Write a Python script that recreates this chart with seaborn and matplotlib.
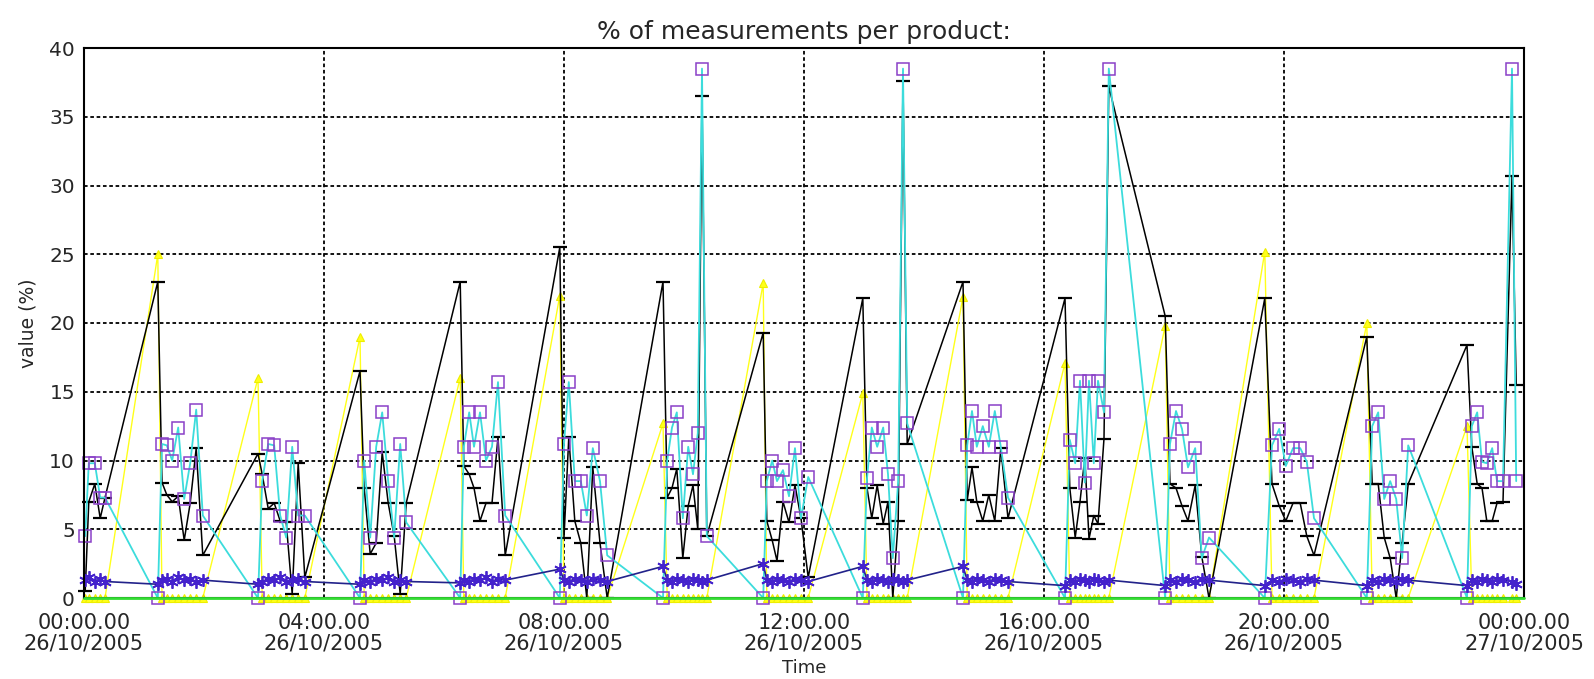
import matplotlib
matplotlib.use('Agg')
import matplotlib.pyplot as plt
import seaborn as sns

# measurement times, hours after 00:00 26/10/2005
hours = [
    0.02, 0.08, 0.18, 0.27, 0.35,
    1.23, 1.30, 1.38, 1.47, 1.57, 1.67, 1.77, 1.87, 1.98,
    2.90, 2.97, 3.07, 3.17, 3.27, 3.37, 3.47, 3.57, 3.68,
    4.60, 4.67, 4.77, 4.87, 4.97, 5.07, 5.17, 5.27, 5.37,
    6.27, 6.33, 6.42, 6.50, 6.60, 6.70, 6.80, 6.90, 7.02,
    7.93, 8.00, 8.08, 8.18, 8.28, 8.38, 8.48, 8.60, 8.72,
    9.65, 9.72, 9.80, 9.88, 9.98, 10.07, 10.15, 10.23, 10.30, 10.38,
    11.32, 11.38, 11.47, 11.55, 11.65, 11.75, 11.85, 11.95, 12.07,
    12.98, 13.05, 13.13, 13.22, 13.32, 13.40, 13.48, 13.57, 13.65, 13.72,
    14.65, 14.72, 14.80, 14.88, 14.98, 15.08, 15.18, 15.28, 15.40,
    16.35, 16.43, 16.52, 16.60, 16.68, 16.75, 16.83, 16.90, 17.00, 17.08,
    18.02, 18.10, 18.20, 18.30, 18.40, 18.52, 18.63, 18.75,
    19.68, 19.80, 19.92, 20.03, 20.15, 20.27, 20.38, 20.50,
    21.38, 21.47, 21.57, 21.67, 21.77, 21.87, 21.97, 22.07,
    23.05, 23.13, 23.22, 23.30, 23.38, 23.47, 23.55, 23.65, 23.80, 23.87,
]

black_pct = [
    0.5, 7.0, 8.3, 5.8, 7.3,
    23.0, 8.4, 7.5, 7.0, 7.4, 4.2, 6.9, 10.9, 3.1,
    10.5, 9.0, 6.5, 6.9, 5.6, 5.5, 0.3, 9.8, 1.5,
    16.5, 8.0, 3.2, 4.0, 10.6, 6.9, 4.5, 0.3, 6.9,
    23.0, 9.6, 9.0, 8.0, 5.6, 6.9, 6.9, 11.7, 3.1,
    25.5, 4.4, 11.7, 5.6, 4.0, 0.0, 9.5, 4.0, 0.0,
    23.0, 7.3, 8.0, 9.4, 2.9, 6.7, 8.2, 5.0, 36.5, 4.5,
    19.3, 5.6, 4.2, 2.7, 7.0, 5.5, 8.2, 5.8, 1.5,
    21.8, 8.0, 5.8, 8.2, 5.4, 7.0, 0.0, 5.6, 37.6, 11.2,
    23.0, 7.1, 9.5, 7.0, 5.6, 7.5, 5.6, 10.9, 5.8,
    21.8, 8.0, 4.4, 7.0, 10.2, 4.3, 6.0, 5.4, 11.6, 37.2,
    20.5, 8.3, 8.0, 6.7, 5.6, 8.2, 3.0, 0.0,
    21.8, 8.3, 6.7, 5.6, 6.9, 6.9, 4.5, 3.1,
    19.0, 8.3, 8.3, 4.4, 2.9, 0.0, 4.0, 8.3,
    18.4, 11.0, 8.3, 8.0, 5.6, 5.6, 6.9, 7.0, 30.7, 15.5,
]

yellow_pct = [
    0, 0, 0, 0, 0,
    25.0, 0, 0, 0, 0, 0, 0, 0, 0,
    16.0, 0, 0, 0, 0, 0, 0, 0, 0,
    19.0, 0, 0, 0, 0, 0, 0, 0, 0,
    16.0, 0, 0, 0, 0, 0, 0, 0, 0,
    22.0, 0, 0, 0, 0, 0, 0, 0, 0,
    12.7, 0, 0, 0, 0, 0, 0, 0, 0, 0,
    22.9, 0, 0, 0, 0, 0, 0, 0, 0,
    14.9, 0, 0, 0, 0, 0, 0, 0, 0, 0,
    21.9, 0, 0, 0, 0, 0, 0, 0, 0,
    17.1, 0, 0, 0, 0, 0, 0, 0, 0, 0,
    19.8, 0, 0, 0, 0, 0, 0, 0,
    25.2, 0, 0, 0, 0, 0, 0, 0,
    20.0, 0, 0, 0, 0, 0, 0, 0,
    12.5, 0, 0, 0, 0, 0, 0, 0, 0, 0,
]

cyan_pct = [
    4.5, 9.8, 9.8, 7.3, 7.3,
    0.0, 11.2, 11.1, 10.0, 12.4, 7.2, 9.8, 13.7, 6.0,
    0.0, 8.5, 11.2, 11.1, 6.0, 4.4, 11.0, 6.0, 6.0,
    0.0, 10.0, 4.4, 11.0, 13.5, 8.5, 4.4, 11.2, 5.5,
    0.0, 11.0, 13.5, 11.0, 13.5, 10.0, 11.0, 15.7, 6.0,
    0.0, 11.2, 15.7, 8.5, 8.5, 6.0, 10.9, 8.5, 3.1,
    0.0, 10.0, 12.4, 13.5, 5.8, 11.0, 9.0, 12.0, 38.5, 4.5,
    0.0, 8.5, 10.0, 8.5, 9.3, 7.4, 10.9, 5.8, 8.8,
    0.0, 8.7, 12.4, 11.0, 12.4, 9.0, 2.9, 8.5, 38.5, 12.7,
    0.0, 11.1, 13.6, 11.0, 12.5, 11.0, 13.6, 11.0, 7.3,
    0.0, 11.5, 9.8, 15.8, 8.4, 15.8, 9.8, 15.8, 13.5, 38.5,
    0.0, 11.2, 13.6, 12.3, 9.5, 10.9, 2.9, 4.4,
    0.0, 11.1, 12.3, 9.6, 10.9, 10.9, 9.9, 5.8,
    0.0, 12.5, 13.5, 7.2, 8.5, 7.2, 2.9, 11.1,
    0.0, 12.5, 13.5, 9.9, 9.8, 10.9, 8.5, 8.5, 38.5, 8.5,
]

navy_pct = [
    1.3, 1.5, 1.2, 1.4, 1.2,
    1.0, 1.3, 1.4, 1.2, 1.5, 1.3, 1.4, 1.2, 1.3,
    1.0, 1.2, 1.4, 1.3, 1.5, 1.2, 1.3, 1.4, 1.2,
    1.0, 1.3, 1.2, 1.4, 1.3, 1.5, 1.2, 1.3, 1.2,
    1.1, 1.3, 1.2, 1.4, 1.3, 1.5, 1.2, 1.4, 1.3,
    2.1, 1.3, 1.2, 1.4, 1.3, 1.2, 1.4, 1.3, 1.2,
    2.3, 1.3, 1.2, 1.4, 1.3, 1.2, 1.4, 1.3, 1.2, 1.3,
    2.5, 1.3, 1.2, 1.4, 1.3, 1.2, 1.4, 1.3, 1.2,
    2.3, 1.3, 1.2, 1.4, 1.3, 1.2, 1.4, 1.3, 1.2, 1.3,
    2.3, 1.3, 1.2, 1.4, 1.3, 1.2, 1.4, 1.3, 1.2,
    0.9, 1.3, 1.2, 1.4, 1.3, 1.2, 1.4, 1.3, 1.2, 1.3,
    0.9, 1.3, 1.2, 1.4, 1.3, 1.2, 1.4, 1.3,
    0.9, 1.3, 1.2, 1.4, 1.3, 1.2, 1.4, 1.3,
    0.9, 1.3, 1.2, 1.4, 1.3, 1.2, 1.4, 1.3,
    0.9, 1.3, 1.2, 1.4, 1.3, 1.2, 1.4, 1.3, 1.2, 1.0,
]

green_hours = [0.0, 24.0]
green_pct = [0.0, 0.0]

tick_hours = [0, 4, 8, 12, 16, 20, 24]
tick_labels = ['00:00.00\n26/10/2005', '04:00.00\n26/10/2005', '08:00.00\n26/10/2005',
               '12:00.00\n26/10/2005', '16:00.00\n26/10/2005', '20:00.00\n26/10/2005',
               '00:00.00\n27/10/2005']

sns.set_style("white")
plt.rcParams['font.family'] = ['DejaVu Sans']

fig = plt.figure(figsize=(15.94, 6.79), dpi=100)
ax = fig.add_axes([84/1594, 1 - 598/679, (1524 - 84)/1594, (598 - 48)/679])

common = dict(ax=ax, estimator=None, sort=False, legend=False, clip_on=False)
sns.lineplot(x=hours, y=yellow_pct, color='#ffff1a', lw=1.0, marker='^', markersize=6,
             mfc='#ffff1a', mec='#eeee00', mew=0.8, **common)
sns.lineplot(x=hours, y=black_pct, color='black', lw=1.1, marker='_', markersize=10,
             mec='black', mew=1.6, **common)
sns.lineplot(x=hours, y=cyan_pct, color='#3cdcdc', lw=1.3, marker='s', markersize=8,
             mfc='none', mec='#8a40c8', mew=1.1, **common)
sns.lineplot(x=hours, y=navy_pct, color='#22228a', lw=1.2, marker=(6, 2, 0), markersize=9,
             mec='#4422cc', mew=1.3, **common)
sns.lineplot(x=green_hours, y=green_pct, color='#33dd33', lw=2.0, zorder=3, **common)

ax.set_xlim(0, 24)
ax.set_ylim(0, 40)
ax.set_xticks(tick_hours)
ax.set_xticklabels(tick_labels, fontsize=15, linespacing=1.0)
ax.set_yticks(range(0, 41, 5))
ax.tick_params(axis='y', labelsize=14.5, length=0, pad=6.5)
ax.tick_params(axis='x', length=0, pad=11)
ax.grid(True, color='black', linestyle=(0, (2, 1.5)), linewidth=1.3)
ax.set_axisbelow(True)
for sp in ax.spines.values():
    sp.set_color('black')
    sp.set_linewidth(1.5)

ax.set_title('% of measurements per product:', fontsize=18, pad=6.5)
ax.set_xlabel('Time', fontsize=13, labelpad=4)
ax.set_ylabel('value (%)', fontsize=13.5)
ax.yaxis.set_label_coords(-0.032, 0.5)

fig.savefig('out.png', dpi=100)
